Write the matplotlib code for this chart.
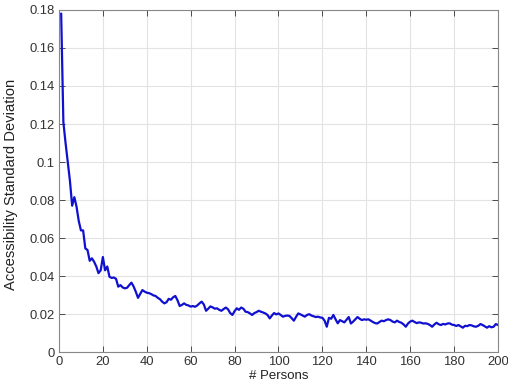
import matplotlib
matplotlib.use("Agg")
import matplotlib.pyplot as plt
import numpy as np

# std of accessibility vs number of persons
persons = np.arange(1, 201)
std_dev = [
    0.178, 0.121, 0.110, 0.100, 0.090, 0.077, 0.0815, 0.0765, 0.069, 0.064,
    0.064, 0.0545, 0.0537, 0.048, 0.0493, 0.0475, 0.045, 0.0415, 0.043, 0.050,
    0.043, 0.045, 0.0396, 0.039, 0.0392, 0.0385, 0.0344, 0.0352, 0.034, 0.0335,
    0.0338, 0.0352, 0.0365, 0.0345, 0.0317, 0.0285, 0.0305, 0.0326, 0.0318, 0.0312,
    0.031, 0.0305, 0.0298, 0.0295, 0.0285, 0.0278, 0.0265, 0.0256, 0.0262, 0.028,
    0.0275, 0.0288, 0.0295, 0.0272, 0.0242, 0.0248, 0.0256, 0.0248, 0.0245, 0.0239,
    0.0242, 0.0238, 0.0245, 0.0256, 0.0265, 0.0250, 0.0217, 0.0228, 0.024, 0.0235,
    0.0228, 0.023, 0.0222, 0.0217, 0.0226, 0.0234, 0.0225, 0.0205, 0.0195, 0.0215,
    0.023, 0.0222, 0.0234, 0.0228, 0.0212, 0.021, 0.0203, 0.0195, 0.0205, 0.021,
    0.0217, 0.0212, 0.0208, 0.0203, 0.0195, 0.0177, 0.0192, 0.0205, 0.0198, 0.0203,
    0.0195, 0.0186, 0.019, 0.0192, 0.019, 0.0178, 0.0165, 0.0185, 0.0203, 0.0198,
    0.0192, 0.0186, 0.0195, 0.0199, 0.0192, 0.0188, 0.0184, 0.0186, 0.0182, 0.018,
    0.0165, 0.0133, 0.018, 0.0175, 0.0195, 0.0172, 0.0151, 0.0168, 0.0162, 0.0156,
    0.017, 0.0184, 0.015, 0.016, 0.0172, 0.0184, 0.0175, 0.0168, 0.0172, 0.017,
    0.0172, 0.0165, 0.0158, 0.0152, 0.015, 0.0158, 0.0165, 0.0162, 0.0168, 0.0172,
    0.0168, 0.016, 0.0156, 0.0165, 0.0158, 0.0154, 0.0145, 0.0133, 0.015, 0.016,
    0.0165, 0.0158, 0.0152, 0.0156, 0.0154, 0.015, 0.0151, 0.0148, 0.0142, 0.0133,
    0.0145, 0.0154, 0.0146, 0.0142, 0.0148, 0.0145, 0.015, 0.0151, 0.0144, 0.0142,
    0.0137, 0.0142, 0.0135, 0.0128, 0.0138, 0.0136, 0.0142, 0.0140, 0.0135, 0.0133,
    0.0138, 0.0147, 0.0142, 0.0135, 0.0128, 0.0136, 0.0130, 0.0133, 0.0147, 0.0142,
]
xticks = list(range(0, 201, 20))
yticks = [0, 0.02, 0.04, 0.06, 0.08, 0.1, 0.12, 0.14, 0.16, 0.18]
ytick_labels = ['0', '0.02', '0.04', '0.06', '0.08', '0.1', '0.12', '0.14', '0.16', '0.18']

plt.rcParams['font.family'] = ['Liberation Sans', 'DejaVu Sans']

fig = plt.figure(figsize=(5.08, 3.89), dpi=100)
ax = fig.add_axes([0.1161, 0.0951, 0.8642, 0.8792])

ax.plot(persons, std_dev, color='#1010d0', linewidth=1.6)

ax.set_xlim(0, 200)
ax.set_ylim(0, 0.18)
ax.set_xticks(xticks)
ax.set_yticks(yticks)
ax.set_yticklabels(ytick_labels)
ax.grid(True, color='#e3e3e3', linewidth=0.8)
ax.set_axisbelow(True)
ax.tick_params(direction='in', top=True, right=True, length=4, width=0.6,
               labelsize=9.4, colors='#333333', pad=3)
for s in ax.spines.values():
    s.set_color('#888888')
    s.set_linewidth(0.8)

ax.set_xlabel('# Persons', fontsize=9.5, color='#222222', labelpad=1)
ax.set_ylabel('Accessibility Standard Deviation', fontsize=10.6, color='#222222')
ax.yaxis.set_label_coords(-0.093, 0.49)

fig.savefig('out.png', dpi=100)
